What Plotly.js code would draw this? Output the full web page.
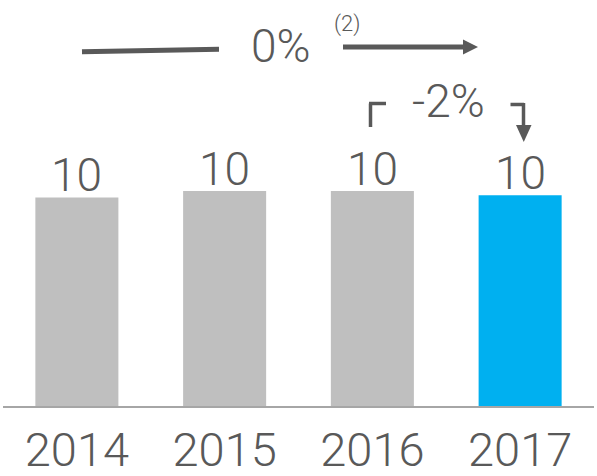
<!DOCTYPE html>
<html>
<head>
<meta charset="utf-8">
<script src="https://cdn.plot.ly/plotly-3.0.1.min.js"></script>
<style>
  html, body { margin: 0; padding: 0; background: #fff; }
  #plot { width: 597px; height: 476px; }
</style>
</head>
<body>
<div id="plot"></div>
<script>
const years = ['2014', '2015', '2016', '2017'];
const values = [9.7, 10.0, 10.0, 9.8];
const barColors = ['#bfbfbf', '#bfbfbf', '#bfbfbf', '#00b0f0'];
const totalChange = '0%';
const totalNote = '(2)';
const lastChange = '-2%';

const W = 597, H = 476;
const margin = {l: 3, r: 3, t: 0, b: 70};
const plotW = W - margin.l - margin.r;
const plotH = H - margin.t - margin.b;
const ink = '#595959';

// pixel -> paper helpers for the decorations above the bars
const px = x => (x - margin.l) / plotW;
const py = y => (H - margin.b - y) / plotH;

function line(x0, y0, x1, y1, w) {
    return {
        type: 'line', xref: 'paper', yref: 'paper',
        x0: px(x0), y0: py(y0), x1: px(x1), y1: py(y1),
        line: {color: ink, width: w}
    };
}

function tri(points) {
    const d = points.map((p, i) => (i ? 'L' : 'M') + px(p[0]) + ',' + py(p[1])).join(' ') + ' Z';
    return {
        type: 'path', xref: 'paper', yref: 'paper', path: d,
        fillcolor: ink, line: {width: 0}
    };
}

const shapes = [
    // total trend line + arrow
    line(82, 51.7, 219, 49.3, 5),
    line(343, 47, 466, 47, 5),
    tri([[463, 39.5], [478, 47], [463, 54.5]]),
    // bracket from 2016 to 2017
    line(370.5, 103.5, 370.5, 127, 3.5),
    line(369, 103.5, 386, 103.5, 3.5),
    line(510.5, 104.5, 524, 104.5, 3.5),
    line(523.5, 103, 523.5, 127, 3.5),
    tri([[516, 125], [531.5, 125], [523.75, 142]])
];

const font = {family: 'Roboto, sans-serif', weight: 300, color: ink};

// value labels sit just above each bar (x is the category index)
const valueLabels = values.map((v, i) => ({
    x: i, y: v, xref: 'x', yref: 'y',
    text: Math.round(v).toString(),
    showarrow: false, xanchor: 'center', yanchor: 'bottom', yshift: -7,
    font: {...font, size: 46}
}));

const annotations = [
    ...valueLabels,
    {xref: 'paper', yref: 'paper', x: px(281), y: py(46), text: totalChange, showarrow: false,
     xanchor: 'center', yanchor: 'middle', font: {...font, size: 46}},
    {xref: 'paper', yref: 'paper', x: px(347), y: py(24), text: totalNote, showarrow: false,
     xanchor: 'center', yanchor: 'middle', font: {...font, size: 22}},
    {xref: 'paper', yref: 'paper', x: px(448.5), y: py(101), text: lastChange, showarrow: false,
     xanchor: 'center', yanchor: 'middle', font: {...font, size: 46}}
];

const trace = {
    type: 'bar',
    x: years,
    y: values,
    marker: {color: barColors},
    hoverinfo: 'none'
};

const layout = {
    width: W,
    height: H,
    margin: margin,
    paper_bgcolor: '#fff',
    plot_bgcolor: '#fff',
    showlegend: false,
    bargap: 0.438,
    xaxis: {
        type: 'category',
        range: [-0.5, years.length - 0.5],
        showline: true,
        linecolor: '#a6a6a6',
        linewidth: 1.5,
        showgrid: false,
        ticks: '',
        ticklabelstandoff: 2,
        tickfont: {...font, size: 47}
    },
    yaxis: {
        range: [0, plotH / 21.5],
        visible: false,
        showgrid: false,
        zeroline: false
    },
    shapes: shapes,
    annotations: annotations
};

Plotly.newPlot('plot', [trace], layout, {staticPlot: true, displayModeBar: false});
</script>
</body>
</html>
